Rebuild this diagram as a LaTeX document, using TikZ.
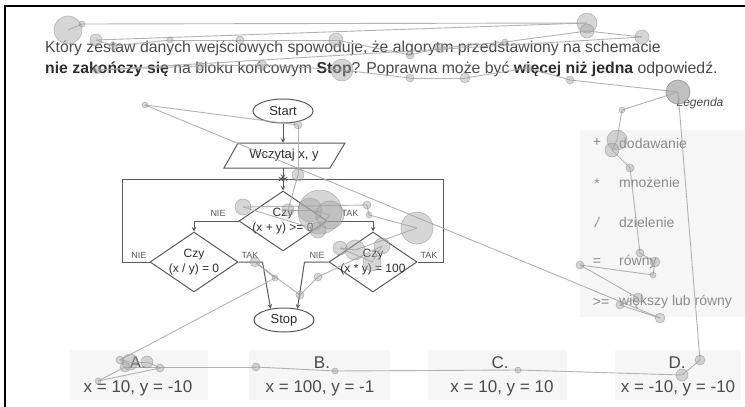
\documentclass[tikz,border=0pt]{standalone}
\usepackage{fontspec}
\setmainfont{Liberation Sans}
\usepackage{xcolor}
\usetikzlibrary{positioning}
\usetikzlibrary{shapes.geometric}
\definecolor{qtext}{HTML}{4A4A4A}
\definecolor{qbold}{HTML}{2E2E2E}
\definecolor{flow}{HTML}{5A5A5A}
\definecolor{legtext}{HTML}{8A8A8A}
\definecolor{panel}{HTML}{F6F6F6}
\definecolor{gaze}{HTML}{A6A6A6}
\newcommand{\fsz}[1]{\fontsize{#1}{#1}\selectfont}
\newcommand{\hl}[1]{\textbf{\color{qbold}#1}}
\def\scanpath{68/30/14, 82/24/3, 587/23/10, 96/40/6, 113/46/4, 170/40/3, 240/40/4,
  336/40/7, 410/55/4, 440/48/5, 505/42/3, 587/31/7, 642/37/7, 97/70/4, 200/66/4,
  262/65/5, 342/70/11, 410/78/4, 465/78/5, 528/68/4, 570/80/4, 678/92/12, 622/110/3,
  617/140/10, 612/150/7, 630/168/4, 640/253/4, 655/262/5, 653/275/3, 580/265/4,
  638/298/5, 620/305/4, 660/318/5, 145/105/3, 298/125/4, 298/175/6, 288/210/6,
  310/210/12, 320/212/22, 330/215/14, 318/230/8, 243/207/8, 367/205/4, 369/215/3,
  417/228/16, 355/250/10, 340/248/7, 372/262/9, 382/246/8, 318/277/4, 300/295/4,
  255/262/5, 275/278/3, 120/360/4, 130/362/8, 147/362/6, 160/368/4, 98/381/3,
  125/367/5, 256/367/4, 335/371/3, 518/370/3, 682/375/6, 700/360/5, 678/92/12}

\begin{document}
\begin{tikzpicture}[x=1pt,y=-1pt,>=stealth,
  line/.style={draw=flow,line width=1pt},
  term/.style={ellipse,draw=flow,line width=1pt,minimum width=60pt,minimum height=24pt,inner sep=0pt,font=\fsz{13},text=qbold},
  diam/.style={diamond,draw=flow,line width=1pt,minimum width=88pt,minimum height=60pt,inner sep=0pt},
  dtext/.style={align=center,inner sep=0pt,font=\fontsize{12}{15}\selectfont,text=qbold},
  branch/.style={font=\fsz{9},text=flow,inner sep=0pt},
  sym/.style={font=\fsz{14},text=legtext,inner sep=0pt},
  legitem/.style={anchor=west,font=\fsz{14},text=legtext,inner sep=0pt},
  ans/.style={font=\fsz{17},text=qtext,inner sep=0pt},
  scan/.style={draw=gaze,line width=.9pt,draw opacity=.85},
  fix/.style={fill=gaze,fill opacity=.45,draw=gaze!75!black,draw opacity=.45,line width=.6pt}]
  \useasboundingbox (0,0) rectangle (745,407);
  \fill[white] (0,0) rectangle (745,407);
  % frame of the screen
  \draw[black,line width=1.3pt] (5,407) -- (5,6) -- (745,6);
  % question
  \node[anchor=west,inner sep=0pt,font=\fsz{15.8},text=qtext] (q1) at (45,48)
    {Który zestaw danych wejściowych spowoduje, że algorytm przedstawiony na schemacie};
  \node[anchor=west,inner sep=0pt,font=\fsz{15.8},text=qtext] (q2) at (45,69)
    {\hl{nie zakończy się} na bloku końcowym \hl{Stop}? Poprawna może być \hl{więcej niż jedna} odpowiedź.};
  % flowchart
  \node[term] (start) at (283,111) {Start};
  \draw[line] (238,143) -- (345,143) -- (330,168) -- (224,168) -- cycle;
  \node[inner sep=0pt,minimum width=100pt,minimum height=25pt,font=\fsz{13},text=qbold] (read) at (284,155.5) {Wczytaj x, y};
  \coordinate (j) at (283,179);
  \node[diam] (c1) at (283,221) {};
  \node[dtext] (c1t) at (c1) {Czy\\(x + y) >= 0};
  \node[diam] (c2) at (194,262) {};
  \node[dtext] (c2t) at (c2) {Czy\\(x / y) = 0};
  \node[diam] (c3) at (373,262) {};
  \node[dtext] (c3t) at (c3) {Czy\\(x * y) = 100};
  \node[term] (stop) at (284,320) {Stop};
  \draw[line,->] (start) -- (read.north -| start);
  \draw[line,->] (read.south -| j) -- (j);
  \draw[line,->] (j) -- (c1.north);
  \draw[line,->] (c2.west) -- ++(-27,0) |- (j);
  \draw[line,->] (c3.east) -- ++(26,0) |- (j);
  \draw[line,->] (c1.west) -| (c2.north);
  \draw[line,->] (c1.east) -| (c3.north);
  \draw[line,->] (c2.east) -- ++(24,0) -- (stop.140);
  \draw[line,->] (c3.west) -- ++(-24,0) -- (stop.40);
  \fill[flow] (j) circle (2pt);
  \node[branch] (n1) at (218,213) {NIE};
  \node[branch] (t1) at (350,213) {TAK};
  \node[branch] (n2) at (139,255) {NIE};
  \node[branch] (t2) at (250,255) {TAK};
  \node[branch] (n3) at (317,255) {NIE};
  \node[branch] (t3) at (429,255) {TAK};
  % legend
  \fill[panel] (580,130) rectangle (745,317);
  \node[inner sep=0pt,font=\fsz{12}\itshape,text=qtext] (leg) at (700,103) {Legenda};
  \node[sym] (s1) at (597,142) {+};
  \node[legitem] (l1) at (619,143) {dodawanie};
  \node[sym] (s2) at (597,184) {*};
  \node[legitem] (l2) at (619,182) {mnożenie};
  \node[sym] (s3) at (597,222) {\itshape /};
  \node[legitem] (l3) at (619,222) {dzielenie};
  \node[sym] (s4) at (597,262) {=};
  \node[legitem] (l4) at (619,262) {równy};
  \node[sym] (s5) at (601,302) {>=};
  \node[legitem] (l5) at (619,302) {większy lub równy};
  % answers
  \fill[panel] (70,350) rectangle (208,400);
  \fill[panel] (249,350) rectangle (390,400);
  \fill[panel] (428,350) rectangle (567,400);
  \fill[panel] (615,350) rectangle (741,400);
  \node[ans] (la) at (138,363) {A.};
  \node[ans] (va) at (138,388) {x = 10, y = -10};
  \node[ans] (lb) at (322,363) {B.};
  \node[ans] (vb) at (320,388) {x = 100, y = -1};
  \node[ans] (lc) at (500,363) {C.};
  \node[ans] (vc) at (502,388) {x = 10, y = 10};
  \node[ans] (ld) at (677,363) {D.};
  \node[ans] (vd) at (678,388) {x = -10, y = -10};
  % eye tracking scanpath
  \foreach \x/\y/\r [remember=\x as \px (initially 68), remember=\y as \py (initially 30)] in \scanpath
    \draw[scan] (\px,\py) -- (\x,\y);
  \foreach \x/\y/\r in \scanpath
    \filldraw[fix] (\x,\y) circle (\r pt);
\end{tikzpicture}
\end{document}
